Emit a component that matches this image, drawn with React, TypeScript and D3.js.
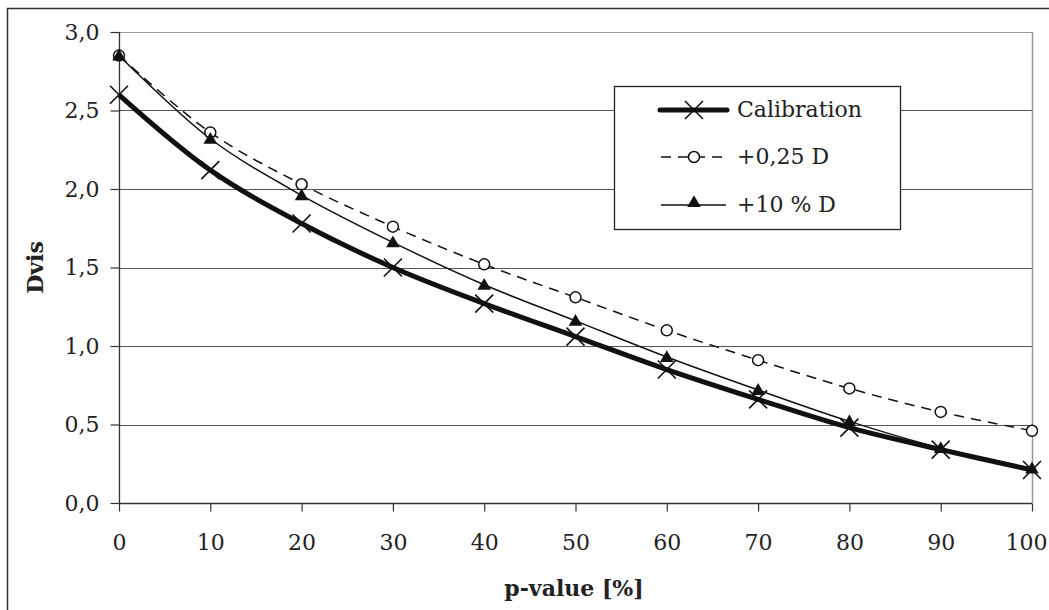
import React, { useEffect, useRef } from "react";
import * as d3 from "d3";

const pValues = [0, 10, 20, 30, 40, 50, 60, 70, 80, 90, 100];
const calibration = [2.6, 2.12, 1.78, 1.5, 1.27, 1.06, 0.85, 0.66, 0.48, 0.34, 0.21];
const plus025 = [2.85, 2.36, 2.03, 1.76, 1.52, 1.31, 1.1, 0.91, 0.73, 0.58, 0.46];
const plus10pct = [2.85, 2.32, 1.96, 1.66, 1.39, 1.16, 0.93, 0.72, 0.52, 0.35, 0.22];
const yTicks = [0, 0.5, 1, 1.5, 2, 2.5, 3];
const legendLabels = ["Calibration", "+0,25 D", "+10 % D"];

const FONT = "'DejaVu Serif', serif";

const App = () => {
    const svgRef = useRef<SVGSVGElement>(null);

    useEffect(() => {
        const width = 1049, height = 610;
        const margin = { top: 32, left: 119 };
        const plotW = 1032 - margin.left;
        const plotH = 503 - margin.top;

        const svg = d3.select(svgRef.current)
            .attr("width", width)
            .attr("height", height);
        svg.selectAll("*").remove();

        svg.append("rect")
            .attr("x", 7.5).attr("y", 8.5)
            .attr("width", 1060).attr("height", 640)
            .attr("fill", "white").attr("stroke", "#333").attr("stroke-width", 1.5);

        const x = d3.scaleLinear().domain([0, 100]).range([0, plotW]);
        const y = d3.scaleLinear().domain([0, 3]).range([plotH, 0]);

        const g = svg.append("g")
            .attr("transform", `translate(${margin.left}, ${margin.top})`);

        // gridlines
        g.selectAll(".grid")
            .data(yTicks.filter(d => d > 0))
            .enter()
            .append("line")
            .attr("x1", 0).attr("x2", plotW)
            .attr("y1", d => Math.round(y(d)) + 0.5)
            .attr("y2", d => Math.round(y(d)) + 0.5)
            .attr("stroke", d => d === 3 ? "#999" : "#555").attr("stroke-width", 1.2);

        g.append("line")
            .attr("x1", plotW + 0.5).attr("x2", plotW + 0.5)
            .attr("y1", 0).attr("y2", plotH)
            .attr("stroke", "#999").attr("stroke-width", 1.5);

        // axes
        const xAxis = g.append("g")
            .attr("transform", `translate(0, ${plotH + 0.5})`)
            .call(d3.axisBottom(x).tickValues(pValues).tickSize(8).tickPadding(23).tickFormat(d3.format("d")));
        const yAxis = g.append("g")
            .attr("transform", "translate(0.5, 0)")
            .call(d3.axisLeft(y).tickValues(yTicks).tickSize(9).tickPadding(11)
                .tickFormat(d => d3.format(".1f")(d as number).replace(".", ",")));

        [xAxis, yAxis].forEach(a => {
            a.select(".domain").attr("stroke", "#333").attr("stroke-width", 1.3);
            a.selectAll(".tick line").attr("stroke", "#333").attr("stroke-width", 1.2);
            a.selectAll("text")
                .attr("font-family", FONT).attr("font-size", 22).attr("fill", "#222");
        });
        yAxis.select(".domain").attr("d", `M0,${plotH}V0`);
        xAxis.select(".domain").attr("d", `M0,0H${plotW}`);
        // last x label is pulled inside the frame
        xAxis.selectAll<SVGTextElement, number>("text")
            .filter(d => d === 100)
            .attr("text-anchor", "end").attr("x", 15);

        const line = d3.line<number>()
            .x((d, i) => x(pValues[i]))
            .y(d => y(d))
            .curve(d3.curveCatmullRom.alpha(0.5));

        // +0,25 D dashed
        g.append("path").datum(plus025).attr("d", line)
            .attr("fill", "none").attr("stroke", "#111").attr("stroke-width", 1.5)
            .attr("stroke-dasharray", "10,7");
        // +10 % D thin
        g.append("path").datum(plus10pct).attr("d", line)
            .attr("fill", "none").attr("stroke", "#111").attr("stroke-width", 1.5);
        // calibration thick
        g.append("path").datum(calibration).attr("d", line)
            .attr("fill", "none").attr("stroke", "#111").attr("stroke-width", 5);

        const tri = d3.symbol().type(d3.symbolTriangle).size(80);
        const cross = (sel: any, cx: number, cy: number) => {
            const s = 9;
            sel.append("path")
                .attr("d", `M${cx - s},${cy - s}L${cx + s},${cy + s}M${cx - s},${cy + s}L${cx + s},${cy - s}`)
                .attr("stroke", "#111").attr("stroke-width", 1.6).attr("fill", "none");
        };

        g.selectAll(".circ")
            .data(plus025).enter().append("circle")
            .attr("cx", (d, i) => x(pValues[i])).attr("cy", d => y(d))
            .attr("r", 5.5).attr("fill", "white").attr("stroke", "#111").attr("stroke-width", 1.5);
        g.selectAll(".tri")
            .data(plus10pct).enter().append("path")
            .attr("d", tri)
            .attr("transform", (d, i) => `translate(${x(pValues[i])}, ${y(d) + 1})`)
            .attr("fill", "#111");
        calibration.forEach((d, i) => cross(g, x(pValues[i]), y(d)));

        // axis titles
        svg.append("text")
            .attr("transform", `translate(37, ${margin.top + plotH / 2}) rotate(-90)`)
            .attr("text-anchor", "middle").attr("dominant-baseline", "middle")
            .attr("font-family", FONT).attr("font-size", 22).attr("font-weight", "bold")
            .attr("fill", "#222").text("Dvis");
        svg.append("text")
            .attr("x", 574).attr("y", 596)
            .attr("text-anchor", "middle")
            .attr("font-family", FONT).attr("font-size", 22).attr("font-weight", "bold")
            .attr("fill", "#222").text("p-value [%]");

        // legend
        const lg = svg.append("g").attr("transform", "translate(614, 86)");
        lg.append("rect")
            .attr("x", 0.5).attr("y", 0.5).attr("width", 286).attr("height", 143)
            .attr("fill", "white").attr("stroke", "#222").attr("stroke-width", 1.3);
        const rows = [24, 71, 119];
        legendLabels.forEach((lab, i) => {
            const yy = rows[i];
            const row = lg.append("g");
            if (i === 0) {
                row.append("line").attr("x1", 46).attr("x2", 113).attr("y1", yy).attr("y2", yy)
                    .attr("stroke", "#111").attr("stroke-width", 5).attr("stroke-linecap", "round");
                cross(row, 80, yy);
            } else if (i === 1) {
                row.append("line").attr("x1", 47).attr("x2", 112).attr("y1", yy).attr("y2", yy)
                    .attr("stroke", "#111").attr("stroke-width", 1.5).attr("stroke-dasharray", "10,7");
                row.append("circle").attr("cx", 80).attr("cy", yy).attr("r", 5.5)
                    .attr("fill", "white").attr("stroke", "#111").attr("stroke-width", 1.5);
            } else {
                row.append("line").attr("x1", 47).attr("x2", 112).attr("y1", yy).attr("y2", yy)
                    .attr("stroke", "#111").attr("stroke-width", 1.5);
                row.append("path").attr("d", tri).attr("transform", `translate(80, ${yy - 2})`).attr("fill", "#111");
            }
            row.append("text")
                .attr("x", 123).attr("y", yy + 1).attr("dominant-baseline", "middle")
                .attr("font-family", FONT).attr("font-size", 22).attr("fill", "#222")
                .text(lab);
        });
    }, []);

    return <svg ref={svgRef} style={{ position: "absolute", left: 0, top: 0 }}></svg>;
};

export default App;
